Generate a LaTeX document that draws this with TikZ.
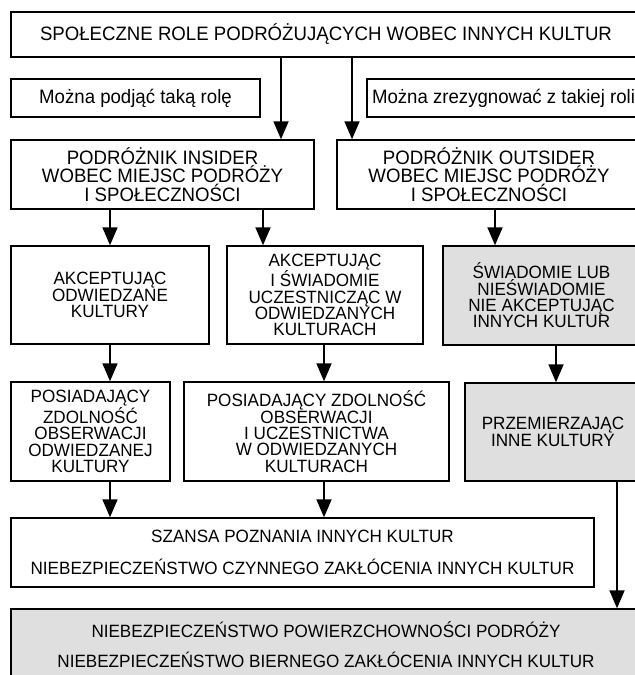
\documentclass[tikz,border=0pt]{standalone}
\usepackage{fontspec}
\setmainfont[FakeStretch=0.96]{Liberation Sans}
\usetikzlibrary{arrows.meta}

\tikzset{
  Box/.style={draw,line width=1.4bp,inner sep=0pt,align=center,font=\fontsize{19.4bp}{18.5bp}\selectfont},
  SBox/.style={Box,font=\fontsize{17.8bp}{16.3bp}\selectfont},
  GBox/.style={SBox,fill=gray!25},
  Arr/.style={-{Triangle[width=15bp,length=18bp]},line width=1.8bp}
}

\begin{document}
\begin{tikzpicture}[x=1bp,y=-1bp]
  \useasboundingbox (0,0) rectangle (635,675);
  \clip (0,0) rectangle (635,675);
  \node[Box,minimum width=630bp,minimum height=45bp] (R) at (326,34.5) {SPOŁECZNE ROLE PODRÓŻUJĄCYCH WOBEC INNYCH KULTUR};
  \node[Box,minimum width=249bp,minimum height=38bp] (P) at (135.5,98) {Można podjąć taką rolę};
  \node[Box,minimum width=273bp,minimum height=38bp] (Z) at (503.5,98) {Można zrezygnować z takiej roli};
  \node[Box,minimum width=303bp,minimum height=69bp] (I) at (162.5,174.5) {PODRÓŻNIK INSIDER\\WOBEC MIEJSC PODRÓŻY\\I SPOŁECZNOŚCI};
  \node[Box,minimum width=304bp,minimum height=69bp] (O) at (489,174.5) {PODRÓŻNIK OUTSIDER\\WOBEC MIEJSC PODRÓŻY\\I SPOŁECZNOŚCI};
  \node[SBox,minimum width=198bp,minimum height=98bp] (A1) at (110,295) {AKCEPTUJĄC\\ODWIEDZANE\\KULTURY};
  \node[SBox,minimum width=196bp,minimum height=98bp] (A2) at (325,295) {AKCEPTUJĄC\\I ŚWIADOMIE\\UCZESTNICZĄC W\\ODWIEDZANYCH\\KULTURACH};
  \node[GBox,minimum width=197bp,minimum height=99bp] (A3) at (541.5,295.5) {ŚWIADOMIE LUB\\NIEŚWIADOMIE\\NIE AKCEPTUJĄC\\INNYCH KULTUR};
  \node[SBox,minimum width=159bp,minimum height=99bp] (B1) at (90.5,431.5) {POSIADAJĄCY\\ZDOLNOŚĆ\\OBSERWACJI\\ODWIEDZANEJ\\KULTURY};
  \node[SBox,minimum width=265bp,minimum height=99bp] (B2) at (316.5,431.5) {POSIADAJĄCY ZDOLNOŚĆ\\OBSERWACJI\\I UCZESTNICTWA\\W ODWIEDZANYCH\\KULTURACH};
  \node[GBox,minimum width=176bp,minimum height=98bp] (B3) at (553,432) {PRZEMIERZAJĄC\\INNE KULTURY};
  \node[SBox,minimum width=583bp,minimum height=69bp] (S) at (302.5,552.5) {SZANSA POZNANIA INNYCH KULTUR\\[15.5bp]NIEBEZPIECZEŃSTWO CZYNNEGO ZAKŁÓCENIA INNYCH KULTUR};
  \node[GBox,minimum width=630bp,minimum height=71bp] (N) at (326,644.5) {NIEBEZPIECZEŃSTWO POWIERZCHOWNOŚCI PODRÓŻY\\[14.5bp]NIEBEZPIECZEŃSTWO BIERNEGO ZAKŁÓCENIA INNYCH KULTUR};
  \draw[Arr] (281,0 |- R.south) -- (281,0 |- I.north);
  \draw[Arr] (352,0 |- R.south) -- (352,0 |- O.north);
  \draw[Arr] (110,0 |- I.south) -- (110,0 |- A1.north);
  \draw[Arr] (263,0 |- I.south) -- (263,0 |- A2.north);
  \draw[Arr] (495,0 |- O.south) -- (495,0 |- A3.north);
  \draw[Arr] (110,0 |- A1.south) -- (110,0 |- B1.north);
  \draw[Arr] (324,0 |- A2.south) -- (324,0 |- B2.north);
  \draw[Arr] (556,0 |- A3.south) -- (556,0 |- B3.north);
  \draw[Arr] (110,0 |- B1.south) -- (110,0 |- S.north);
  \draw[Arr] (324,0 |- B2.south) -- (324,0 |- S.north);
  \draw[Arr] (617,0 |- B3.south) -- (617,0 |- N.north);
\end{tikzpicture}
\end{document}
